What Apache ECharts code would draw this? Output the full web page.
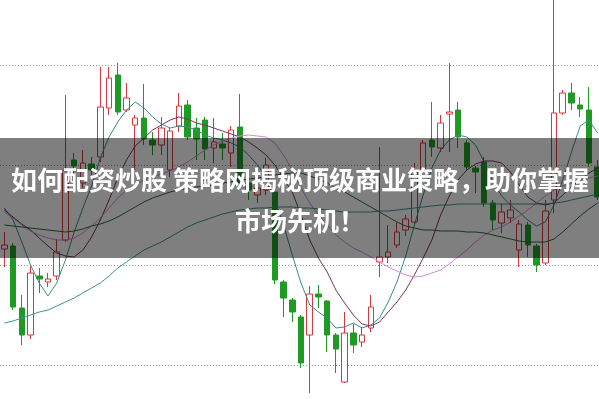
<!DOCTYPE html>
<html>
<head>
<meta charset="utf-8">
<script src="https://cdn.jsdelivr.net/npm/echarts@6/dist/echarts.min.js"></script>
<style>
    html, body { margin: 0; padding: 0; background: #fff; }
    #chart { width: 599px; height: 399px; }
</style>
</head>
<body>
<div id="chart"></div>
<script>
// 日K: [open, close, low, high]
const candleData = [
    [11.16, 11.20, 10.98, 11.33], [11.19, 10.58, 10.55, 11.22], [10.57, 10.30, 10.20, 10.70],
    [10.30, 10.92, 10.26, 10.99], [10.89, 10.86, 10.72, 10.97], [10.83, 10.86, 10.78, 10.92],
    [10.89, 11.13, 10.85, 11.26], [11.25, 11.95, 11.23, 12.70], [12.05, 11.99, 11.90, 12.12],
    [11.82, 12.02, 11.77, 12.15], [12.01, 11.95, 11.90, 12.08], [12.08, 12.58, 12.03, 12.98],
    [12.57, 12.87, 12.50, 12.98], [12.90, 12.53, 12.50, 13.02], [12.55, 12.67, 12.53, 12.82],
    [12.40, 12.47, 11.95, 12.50], [12.47, 12.26, 12.20, 12.81], [12.25, 12.20, 12.10, 12.33],
    [12.20, 12.37, 12.10, 12.48], [11.95, 12.34, 11.88, 12.37], [12.39, 12.59, 12.33, 12.72],
    [12.60, 12.28, 12.25, 12.65], [12.37, 12.26, 12.05, 12.47], [12.45, 12.16, 12.05, 12.48],
    [12.17, 12.23, 12.02, 12.47], [12.21, 12.17, 12.05, 12.32], [12.12, 12.35, 11.98, 12.39],
    [12.38, 11.82, 11.75, 12.71], [11.82, 11.75, 11.65, 11.87], [11.70, 11.77, 11.62, 11.85],
    [11.75, 12.00, 11.70, 12.07], [11.73, 10.85, 10.81, 11.77], [10.83, 10.67, 10.48, 10.85],
    [10.65, 10.53, 10.43, 10.67], [10.48, 10.02, 9.97, 10.50], [10.30, 10.71, 9.72, 10.79],
    [10.71, 10.68, 10.57, 10.80], [10.64, 10.30, 10.13, 10.65], [10.30, 10.16, 9.92, 10.32],
    [9.83, 10.32, 9.82, 10.53], [10.32, 10.20, 10.12, 10.41], [10.23, 10.30, 10.18, 10.38],
    [10.37, 10.58, 10.33, 10.70], [11.03, 11.08, 10.88, 12.18], [11.08, 11.13, 11.02, 11.40],
    [11.20, 11.33, 11.17, 11.42], [11.35, 11.46, 11.29, 11.50], [11.43, 11.95, 11.41, 12.02],
    [11.95, 12.22, 11.93, 12.25], [12.25, 12.18, 12.08, 12.63], [12.17, 12.42, 12.13, 12.50],
    [12.51, 12.53, 12.13, 13.02], [12.55, 12.28, 12.17, 12.63], [12.22, 11.98, 11.95, 12.25],
    [11.97, 11.93, 11.72, 11.99], [12.03, 11.62, 11.58, 12.08], [11.62, 11.45, 11.35, 11.65],
    [11.42, 11.53, 11.32, 11.62], [11.47, 11.55, 11.42, 11.65], [11.15, 11.41, 10.98, 11.45],
    [11.40, 11.20, 11.08, 11.43], [11.19, 11.00, 10.93, 11.21], [11.02, 11.54, 11.00, 11.65],
    [11.65, 12.52, 11.52, 13.70], [12.52, 12.72, 12.50, 12.75], [12.72, 12.62, 12.55, 12.82],
    [12.60, 12.56, 12.48, 12.68], [12.55, 12.02, 11.98, 12.78], [11.98, 11.68, 11.65, 12.05]
];

const ma5 = [
    11.57, 11.45, 11.23, 11.00, 10.82, 10.69, 10.82, 11.05, 11.33, 11.57, 11.79, 12.07,
    12.28, 12.43, 12.55, 12.63, 12.57, 12.48, 12.41, 12.37, 12.39, 12.38, 12.35, 12.30,
    12.27, 12.25, 12.22, 12.18, 12.10, 12.00, 11.88, 11.65, 11.40, 11.10, 10.82, 10.60,
    10.53, 10.47, 10.37, 10.38, 10.42, 10.37, 10.40, 10.47, 10.63, 10.83, 11.09, 11.40,
    11.70, 11.97, 12.15, 12.25, 12.30, 12.28, 12.20, 12.03, 11.83, 11.69, 11.60, 11.53,
    11.45, 11.39, 11.43, 11.60, 11.85, 12.13, 12.39, 12.45, 12.32
];
const ma10 = [
    11.55, 11.48, 11.41, 11.35, 11.27, 11.19, 11.12, 11.09, 11.08, 11.15, 11.28, 11.45,
    11.65, 11.87, 12.05, 12.19, 12.27, 12.35, 12.40, 12.45, 12.48, 12.46, 12.42, 12.40,
    12.37, 12.34, 12.31, 12.28, 12.23, 12.17, 12.10, 12.00, 11.87, 11.73, 11.50, 11.25,
    11.07, 10.93, 10.75, 10.62, 10.50, 10.41, 10.39, 10.43, 10.53, 10.63, 10.75, 10.90,
    11.07, 11.25, 11.50, 11.69, 11.85, 11.95, 12.01, 12.04, 12.04, 12.02, 11.93, 11.80,
    11.68, 11.62, 11.60, 11.62, 11.70, 11.78, 11.85, 11.92, 11.97
];
const ma20 = [
    11.53, 11.47, 11.40, 11.34, 11.30, 11.27, 11.25, 11.25, 11.27, 11.32, 11.39, 11.47,
    11.57, 11.67, 11.75, 11.80, 11.85, 11.88, 11.91, 11.94, 11.98, 12.03, 12.09, 12.15,
    12.20, 12.24, 12.27, 12.29, 12.30, 12.29, 12.28, 12.22, 12.10, 11.95, 11.77, 11.62,
    11.50, 11.40, 11.30, 11.23, 11.17, 11.13, 11.08, 11.03, 10.98, 10.94, 10.90, 10.88,
    10.89, 10.92, 10.95, 11.01, 11.08, 11.15, 11.23, 11.30, 11.35, 11.38, 11.43, 11.49,
    11.55, 11.62, 11.69, 11.75, 11.79, 11.82, 11.85, 11.87, 11.89
];
const ma30 = [
    11.40, 11.39, 11.38, 11.37, 11.36, 11.35, 11.34, 11.33, 11.34, 11.36, 11.39, 11.41,
    11.44, 11.48, 11.53, 11.58, 11.63, 11.67, 11.70, 11.73, 11.75, 11.77, 11.78, 11.79,
    11.80, 11.82, 11.83, 11.85, 11.86, 11.87, 11.88, 11.90, 11.91, 11.92, 11.92, 11.89,
    11.86, 11.82, 11.77, 11.73, 11.68, 11.63, 11.58, 11.53, 11.48, 11.43, 11.39, 11.37,
    11.35, 11.35, 11.34, 11.34, 11.34, 11.33, 11.33, 11.32, 11.30, 11.28, 11.26, 11.24,
    11.23, 11.23, 11.23, 11.26, 11.33, 11.41, 11.49, 11.56, 11.62
];
const ma60 = [
    10.42, 10.44, 10.47, 10.50, 10.53, 10.55, 10.59, 10.63, 10.67, 10.72, 10.77, 10.82,
    10.89, 10.97, 11.03, 11.09, 11.15, 11.19, 11.23, 11.28, 11.33, 11.38, 11.42, 11.45,
    11.48, 11.51, 11.53, 11.55, 11.56, 11.57, 11.57, 11.58, 11.58, 11.58, 11.57, 11.57,
    11.56, 11.55, 11.54, 11.53, 11.53, 11.53, 11.53, 11.54, 11.54, 11.55, 11.56, 11.57,
    11.58, 11.59, 11.60, 11.60, 11.61, 11.61, 11.61, 11.61, 11.61, 11.61, 11.61, 11.61,
    11.61, 11.61, 11.61, 11.62, 11.63, 11.65, 11.67, 11.69, 11.71
];

const titleLines = ['如何配资炒股 策略网揭秘顶级商业策略，助你掌握', '市场先机！'];

const days = candleData.map((_, i) => String(i + 1));

const chart = echarts.init(document.getElementById('chart'));

function maLine(name, data, color) {
    return {
        name: name,
        type: 'line',
        data: data,
        symbol: 'none',
        clip: false,
        z: 3,
        lineStyle: { color: color, width: 1 }
    };
}

chart.setOption({
    animation: false,
    backgroundColor: '#fff',
    grid: {
        left: 0,
        top: -35,
        width: 602,
        height: 500,
        outerBoundsMode: 'none',
        containLabel: false
    },
    xAxis: {
        type: 'category',
        data: days,
        show: false
    },
    yAxis: {
        type: 'value',
        min: 9,
        max: 14,
        interval: 1,
        axisLine: { show: false },
        axisTick: { show: false },
        axisLabel: { show: false },
        splitLine: {
            show: true,
            lineStyle: { color: '#9a9a9a', width: 1, type: [1, 2] }
        }
    },
    series: [
        {
            name: 'K',
            type: 'candlestick',
            data: candleData,
            barWidth: 6,
            clip: false,
            z: 2,
            itemStyle: {
                color: '#ffffff',
                color0: '#1f9a24',
                borderColor: '#d23a3f',
                borderColor0: '#1f9a24',
                borderWidth: 1
            }
        },
        maLine('MA5', ma5, '#3d8c8c'),
        maLine('MA10', ma10, '#74365f'),
        maLine('MA20', ma20, '#d88ad8'),
        maLine('MA30', ma30, '#2e6b3c'),
        maLine('MA60', ma60, '#3a9595')
    ],
    graphic: [
        {
            type: 'rect',
            z: 100,
            shape: { x: 0, y: 138, width: 599, height: 120 },
            style: { fill: 'rgba(0,0,0,0.5)' }
        },
        {
            type: 'text',
            z: 101,
            x: 300,
            y: 180,
            style: {
                text: titleLines[0],
                fill: '#fff',
                font: 'bold 26px "Noto Sans CJK SC", sans-serif',
                textAlign: 'center',
                textVerticalAlign: 'middle'
            }
        },
        {
            type: 'text',
            z: 101,
            x: 300,
            y: 221,
            style: {
                text: titleLines[1],
                fill: '#fff',
                font: 'bold 26px "Noto Sans CJK SC", sans-serif',
                textAlign: 'center',
                textVerticalAlign: 'middle'
            }
        }
    ]
});
</script>
</body>
</html>
